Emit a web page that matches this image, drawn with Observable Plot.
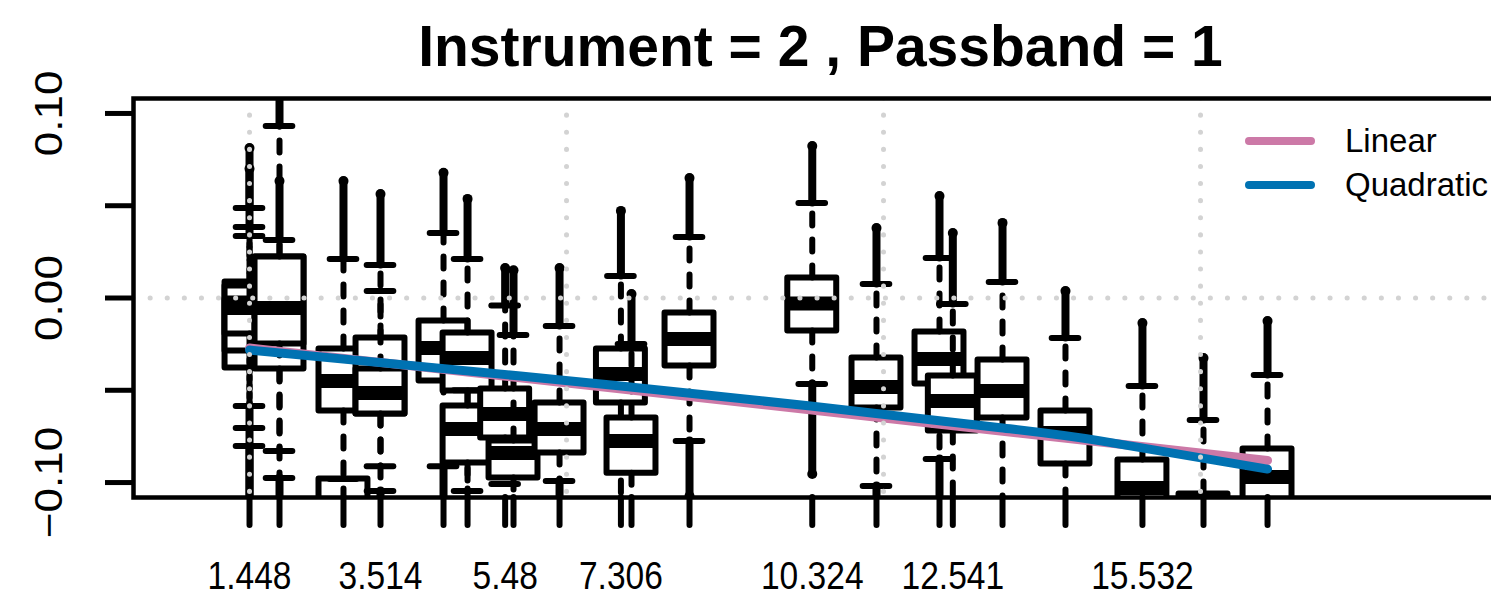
<!DOCTYPE html>
<html><head><meta charset="utf-8">
<script src="https://cdn.jsdelivr.net/npm/d3@7"></script>
<script src="https://cdn.jsdelivr.net/npm/@observablehq/plot@0.6"></script>
<style>
html,body{margin:0;padding:0;background:#fff;overflow:hidden;}
#wrap{position:relative;width:1530px;height:603px;font-family:"Liberation Sans",Arial,Helvetica,sans-serif;}
.sw{position:absolute;height:8px;width:70px;border-radius:4px;}
.lt{position:absolute;font-size:33px;line-height:33px;color:#000;white-space:nowrap;}
</style></head><body><div id="wrap"></div>
<script>
// ---- data (box statistics, in drawing order) ----
const times = [1.448,1.448,1.448,1.921,1.921,2.930,2.930,3.514,3.514,4.508,4.887,4.887,5.480,5.612,6.338,7.306,7.473,8.388,10.324,11.337,12.331,12.541,13.325,14.318,15.532,16.495,17.505];
const q3    = [0.0087,0.0065,-0.0005,0.0222,0.0222,-0.0981,-0.0276,-0.0217,-0.0385,-0.0125,-0.0190,-0.0585,-0.0493,-0.0775,-0.0569,-0.0276,-0.0650,-0.0081,0.0108,-0.0325,-0.0184,-0.0423,-0.0336,-0.0612,-0.0878,-0.1062,-0.0818];
const med   = [-0.0054,-0.0054,-0.0054,-0.0054,-0.0054,-0.1250,-0.0450,-0.0515,-0.0515,-0.0271,-0.0325,-0.0710,-0.0629,-0.0840,-0.0710,-0.0412,-0.0775,-0.0222,-0.0030,-0.0482,-0.0331,-0.0558,-0.0504,-0.0732,-0.1030,-0.1150,-0.0970];
const q1    = [-0.0379,-0.0287,-0.0195,-0.0385,-0.0249,-0.1300,-0.0612,-0.0629,-0.0629,-0.0450,-0.0504,-0.0894,-0.0759,-0.0976,-0.0840,-0.0569,-0.0949,-0.0369,-0.0179,-0.0596,-0.0466,-0.0720,-0.0650,-0.0900,-0.1100,-0.1200,-0.1150];
const whiHi = [0.0488,0.0385,0.0336,0.0932,0.0314,-0.0981,0.0211,0.0179,0.0038,0.0352,0.0211,-0.0500,-0.0040,-0.0200,-0.0152,0.0119,-0.0249,0.0331,0.0515,0.0076,0.0217,-0.0033,0.0087,-0.0217,-0.0477,-0.0661,-0.0417];
const whiLo = [-0.0802,-0.0705,-0.0585,-0.0976,-0.0829,-0.1400,-0.1300,-0.0911,-0.1046,-0.0911,-0.1300,-0.1046,-0.1008,-0.1300,-0.0992,-0.1300,-0.1300,-0.0775,-0.0466,-0.1019,-0.0873,-0.1300,-0.1300,-0.1300,-0.1300,-0.1300,-0.1300];
const outHi = [0.0813,null,0.0700,0.1300,0.0634,null,0.0634,0.0564,null,0.0678,0.0537,null,0.0163,0.0150,0.0163,0.0472,0.0022,0.0650,0.0824,0.0379,0.0553,0.0352,0.0407,0.0038,-0.0136,-0.0325,-0.0125];
const outLo = [-0.1300,null,-0.1300,-0.1300,null,null,null,null,-0.1300,-0.1300,null,null,null,null,-0.1300,null,null,-0.1073,-0.0954,-0.1300,-0.1300,null,null,null,null,null,null];

// x-axis tick labels (only these are printed)
const labelTimes = [1.448,3.514,5.480,7.306,10.324,12.541,15.532];
const labelText  = ["1.448","3.514","5.48","7.306","10.324","12.541","15.532"];

// fitted trends
const linT = [1.448,17.505];
const linY = [-0.0271,-0.0880];
const quadT = [1.448,5.722,10.297,13.293,14.870,17.505];
const quadY = [-0.0282,-0.0423,-0.0585,-0.0703,-0.0774,-0.0927];

const gridT = [1.448,6.448,11.448,16.448,21.448];
const yTicks = [-0.10,-0.05,0,0.05,0.10];
const yLabels = [-0.10,0,0.10];

const title = "Instrument = 2 , Passband = 1";
const legendNames = ["Linear","Quadratic"];
const legendColors = ["#CC79A7","#0072B2"];

// ---- build ----
const hw = 0.386, sw = 0.21;
const LW = 6, DASH = "12,14";
const boxes = times.map((t,i)=>({t,q1:q1[i],med:med[i],q3:q3[i],whi:whiHi[i],wlo:whiLo[i],oh:outHi[i],ol:outLo[i]}));
const marks = [];
for (const b of boxes){
  const d=[b];
  marks.push(Plot.rect(d,{x1:o=>o.t-hw,x2:o=>o.t+hw,y1:"q1",y2:"q3",fill:"white",stroke:"black",strokeWidth:LW,strokeLinejoin:"round",clip:true}));
  marks.push(Plot.ruleY(d,{x1:o=>o.t-hw,x2:o=>o.t+hw,y:"med",stroke:"black",strokeWidth:14,clip:true}));
  marks.push(Plot.ruleX(d,{x:"t",y1:"q3",y2:"whi",stroke:"black",strokeWidth:LW,strokeDasharray:DASH,strokeLinecap:"round",clip:true}));
  marks.push(Plot.ruleX(d,{x:"t",y1:"q1",y2:"wlo",stroke:"black",strokeWidth:LW,strokeDasharray:DASH,strokeLinecap:"round",clip:true}));
  marks.push(Plot.ruleY(d,{x1:o=>o.t-sw,x2:o=>o.t+sw,y:"whi",stroke:"black",strokeWidth:LW,strokeLinecap:"round",clip:true}));
  marks.push(Plot.ruleY(d,{x1:o=>o.t-sw,x2:o=>o.t+sw,y:"wlo",stroke:"black",strokeWidth:LW,strokeLinecap:"round",clip:true}));
  if (b.oh!=null){
    marks.push(Plot.ruleX(d,{x:"t",y1:"whi",y2:"oh",stroke:"black",strokeWidth:8,strokeLinecap:"round",clip:true}));
    marks.push(Plot.dot(d,{x:"t",y:"oh",r:5,fill:"black",clip:true}));
  }
  if (b.ol!=null){
    marks.push(Plot.ruleX(d,{x:"t",y1:"wlo",y2:"ol",stroke:"black",strokeWidth:8,strokeLinecap:"round",clip:true}));
    marks.push(Plot.dot(d,{x:"t",y:"ol",r:5,fill:"black",clip:true}));
  }
}
const lin = linT.map((t,i)=>({t,v:linY[i]}));
const quad = quadT.map((t,i)=>({t,v:quadY[i]}));
marks.push(Plot.line(lin,{x:"t",y:"v",stroke:legendColors[0],strokeWidth:9,strokeLinecap:"round",clip:true}));
marks.push(Plot.line(quad,{x:"t",y:"v",stroke:legendColors[1],strokeWidth:9,strokeLinecap:"round",curve:"natural",clip:true}));
marks.push(Plot.ruleX(gridT,{x:d=>d,stroke:"#d3d3d3",strokeWidth:5,strokeDasharray:"0.1,17",strokeLinecap:"round",clip:true}));
marks.push(Plot.ruleY([0],{y:d=>d,stroke:"#d3d3d3",strokeWidth:5,strokeDasharray:"0.1,17",strokeLinecap:"round",clip:true}));
marks.push(Plot.frame({stroke:"black",strokeWidth:4.5}));
const uniqTimes = Array.from(new Set(times));
marks.push(Plot.axisX({ticks:uniqTimes,tickSize:28,tickFormat:()=>"",strokeWidth:6,strokeLinecap:"round",label:null}));
const lab = new Map(labelTimes.map((t,i)=>[t,labelText[i]]));
marks.push(Plot.axisX({ticks:labelTimes,tickSize:0,tickPadding:64,tickFormat:d=>lab.get(d),fontSize:39,fill:"black",label:null}));
marks.push(Plot.axisY({ticks:yTicks,tickSize:28,strokeWidth:5,tickFormat:()=>"",label:null}));
const yFmt = d=>d.toFixed(2).replace("-","\u2212");
marks.push(Plot.axisY({ticks:yLabels,tickSize:0,tickPadding:84,tickFormat:yFmt,rotate:-90,textAnchor:"middle",fontSize:38,fill:"black",label:null}));
marks.push(Plot.text([title],{text:d=>d,frameAnchor:"top",lineAnchor:"middle",dy:-51,fontSize:57,fontWeight:"bold",fill:"black"}));

const chart = Plot.plot({
  width:1530,height:603,
  marginLeft:133,marginRight:23,marginTop:98,marginBottom:106,
  x:{domain:[-0.382,21.29]},
  y:{domain:[-0.1081,0.1081]},
  style:{fontFamily:'"Liberation Sans",Arial,Helvetica,sans-serif',background:"white",color:"black"},
  marks
});
const wrap = document.getElementById("wrap");
wrap.appendChild(chart);
// narrow the tick label glyphs as in the original rendering
const xSet = new Set(labelText), ySet = new Set(yLabels.map(yFmt));
chart.querySelectorAll("text").forEach(t=>{
  const s = t.textContent;
  let f = null;
  if (xSet.has(s)) f = 0.86; else if (ySet.has(s)) f = 1.16;
  if (f){
    const L = t.getComputedTextLength();
    t.setAttribute("textLength", (L*f).toFixed(1));
    t.setAttribute("lengthAdjust","spacingAndGlyphs");
  }
});
// legend
legendNames.forEach((n,i)=>{
  const cy = 141 + i*44;
  const s = document.createElement("div"); s.className="sw";
  s.style.left="1245px"; s.style.top=(cy-4)+"px"; s.style.background=legendColors[i];
  wrap.appendChild(s);
  const t = document.createElement("div"); t.className="lt";
  t.style.left="1345px"; t.style.top=(cy-17)+"px"; t.textContent=n;
  wrap.appendChild(t);
});
</script></body></html>
